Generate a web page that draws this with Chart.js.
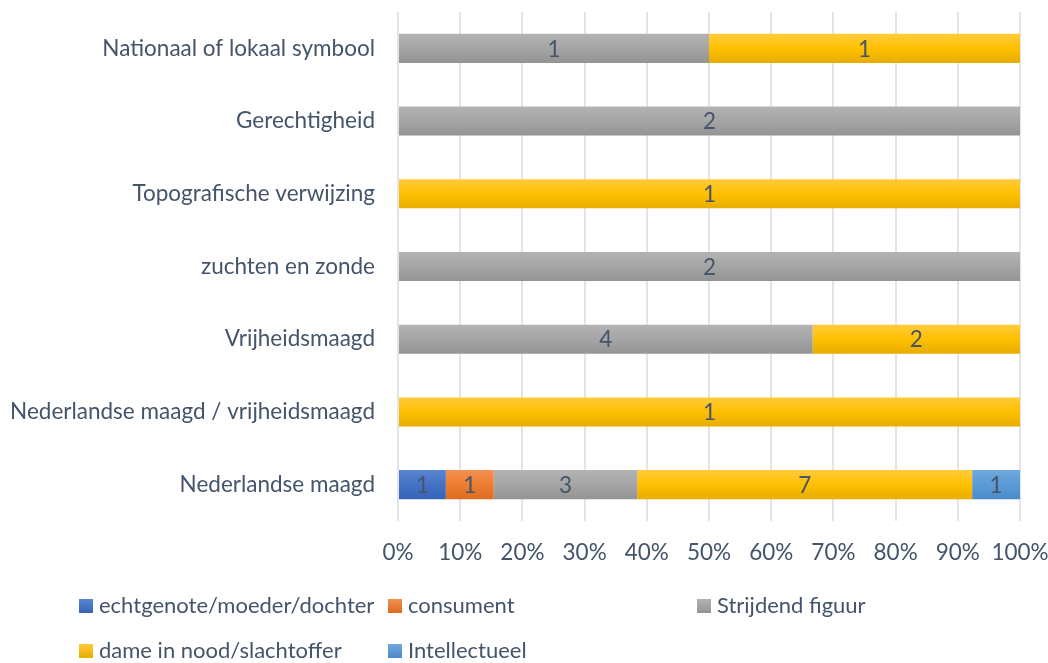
<!DOCTYPE html>
<html lang="nl">
<head>
<meta charset="UTF-8">
<title>Vrouwfiguren</title>
<script src="https://cdn.jsdelivr.net/npm/chart.js@4.4.1/dist/chart.umd.min.js"></script>
<style>
  html, body { margin: 0; padding: 0; background: #fff; }
  #wrap { position: relative; width: 1048px; height: 663px; }
  #chart { position: absolute; left: 0; top: 0; }
  .legend { position: absolute; left: 0; top: 0; font-family: Lato, "Open Sans", sans-serif; font-size: 22px; color: #44546A; }
  .legend .item { position: absolute; white-space: nowrap; line-height: 26px; }
  .legend .box { display: inline-block; width: 14px; height: 14px; margin-right: 6px; vertical-align: 0px; }
</style>
</head>
<body>
<div id="wrap">
  <canvas id="chart" width="1048" height="663"></canvas>
  <div class="legend" id="legend"></div>
</div>
<script>
// categories, top to bottom
const categories = [
    'Nationaal of lokaal symbool',
    'Gerechtigheid',
    'Topografische verwijzing',
    'zuchten en zonde',
    'Vrijheidsmaagd',
    'Nederlandse maagd / vrijheidsmaagd',
    'Nederlandse maagd'
];
const seriesNames = ['echtgenote/moeder/dochter', 'consument', 'Strijdend figuur', 'dame in nood/slachtoffer', 'Intellectueel'];
const echtgenote = [0, 0, 0, 0, 0, 0, 1];
const consument = [0, 0, 0, 0, 0, 0, 1];
const strijdend = [1, 2, 0, 2, 4, 0, 3];
const dame = [1, 0, 1, 0, 2, 1, 7];
const intellectueel = [0, 0, 0, 0, 0, 0, 1];
const xTicks = [0, 10, 20, 30, 40, 50, 60, 70, 80, 90, 100];

const colors = ['#4472C4', '#ED7D31', '#A5A5A5', '#FFC000', '#5B9BD5'];
const topColors = ['#5A85D1', '#F39150', '#B3B3B3', '#FFCB3D', '#6FA8DD'];
const bottomColors = ['#3563B5', '#DB6B1F', '#939393', '#E6AC00', '#4A8ACA'];

const raw = [echtgenote, consument, strijdend, dame, intellectueel];
const totals = categories.map((c, i) => raw.reduce((s, arr) => s + arr[i], 0));
const textColor = '#44546A';
const font = 'Lato, "Open Sans", sans-serif';
const fontSize = 22.5;

// vertical gradient per bar, like the Excel fill
function barFill(k) {
    return function (ctx) {
        const chart = ctx.chart;
        const y = chart.scales && chart.scales.y;
        if (!chart.chartArea || !y || ctx.dataIndex === undefined) return colors[k];
        const c = y.getPixelForValue(ctx.dataIndex);
        const half = 15;
        const g = chart.ctx.createLinearGradient(0, c - half, 0, c + half);
        g.addColorStop(0, topColors[k]);
        g.addColorStop(0.5, colors[k]);
        g.addColorStop(1, bottomColors[k]);
        return g;
    };
}

const datasets = raw.map((arr, k) => ({
    label: seriesNames[k],
    data: arr.map((v, i) => v / totals[i] * 100),
    raw: arr,
    backgroundColor: barFill(k),
    borderWidth: 0,
    categoryPercentage: 1,
    barPercentage: 0.4
}));

// values written in the middle of each segment
const valueLabels = {
    id: 'valueLabels',
    afterDatasetsDraw(chart) {
        const c = chart.ctx;
        c.save();
        c.font = fontSize + 'px ' + font;
        c.fillStyle = textColor;
        c.textAlign = 'center';
        c.textBaseline = 'middle';
        chart.data.datasets.forEach((ds, k) => {
            chart.getDatasetMeta(k).data.forEach((bar, i) => {
                const v = ds.raw[i];
                if (!v) return;
                c.fillText(String(v), (bar.x + bar.base) / 2, bar.y + 1);
            });
        });
        c.restore();
    }
};

new Chart(document.getElementById('chart'), {
    type: 'bar',
    data: { labels: categories, datasets: datasets },
    options: {
        indexAxis: 'y',
        responsive: false,
        animation: false,
        events: [],
        layout: { padding: { top: 12, right: 28, bottom: 0, left: 0 } },
        plugins: { legend: { display: false }, tooltip: { enabled: false } },
        scales: {
            x: {
                stacked: true,
                min: 0,
                max: 100,
                afterBuildTicks: s => { s.ticks = xTicks.map(v => ({ value: v })); },
                afterFit: s => { s.height = 142; s.paddingRight = 0; },
                border: { display: false },
                grid: { color: '#E1E4EA', lineWidth: 2, drawTicks: false },
                ticks: {
                    padding: 18,
                    maxRotation: 0,
                    minRotation: 0,
                    autoSkip: false,
                    color: textColor,
                    font: { family: font, size: fontSize },
                    callback: v => v + '%'
                }
            },
            y: {
                stacked: true,
                afterFit: s => { s.width = 398; s.paddingTop = 0; s.paddingBottom = 0; },
                border: { display: false },
                grid: { display: false, drawTicks: false },
                ticks: {
                    padding: 23,
                    color: textColor,
                    font: { family: font, size: fontSize }
                }
            }
        }
    },
    plugins: [valueLabels]
});

// legend laid out like the original
const legendPos = [[79, 592], [388, 592], [697, 592], [79, 637], [388, 637]];
const legend = document.getElementById('legend');
seriesNames.forEach((name, k) => {
    const d = document.createElement('div');
    d.className = 'item';
    d.style.left = legendPos[k][0] + 'px';
    d.style.top = legendPos[k][1] + 'px';
    d.innerHTML = '<span class="box" style="background:linear-gradient(' + topColors[k] + ',' + bottomColors[k] + ')"></span>' + name;
    legend.appendChild(d);
});
</script>
</body>
</html>
